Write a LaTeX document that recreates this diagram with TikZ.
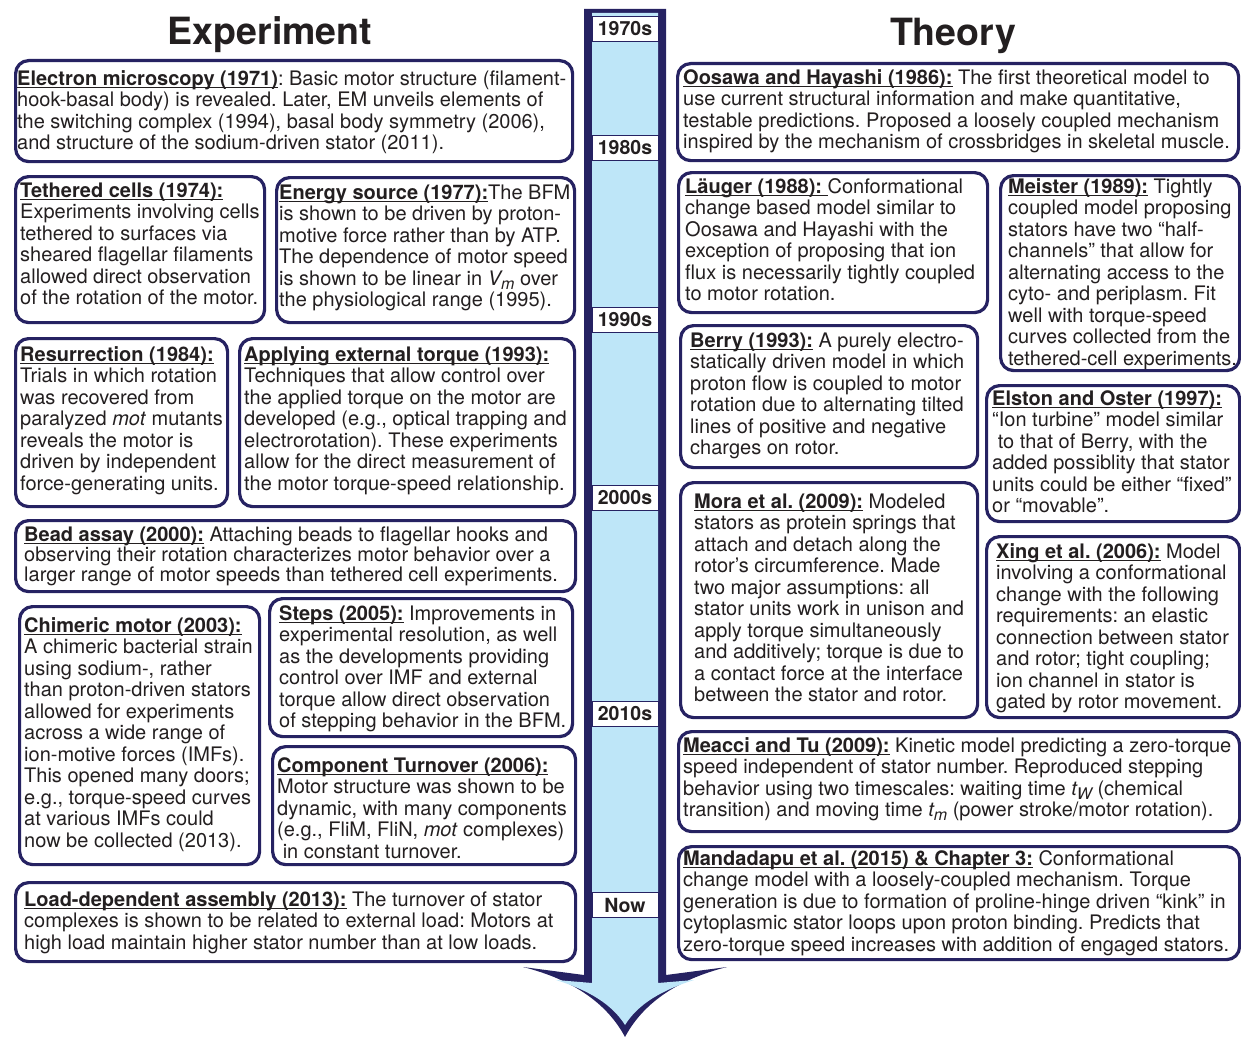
\documentclass[tikz,border=0pt]{standalone}
\usepackage{fontspec}
\setmainfont{TeX Gyre Heros}
\definecolor{navy}{RGB}{38,34,98}
\definecolor{skyfill}{RGB}{190,230,248}
\definecolor{ink}{RGB}{35,31,32}
\newcommand\hdr[1]{\setbox0=\hbox{\bfseries #1}\rlap{\rule[-3.2pt]{\wd0}{1.3pt}}\box0\relax}
\newcommand\sbit[2]{{\itshape #1\raisebox{-4pt}{\fontsize{16}{16}\selectfont #2}}}
\newcommand\mybox[5]{\node[box, anchor=north west, minimum width={#4-#2}, minimum height={#5-#3}] (#1) at (#2,#3) {};}
\tikzset{
  box/.style={draw=navy, line width=3.2pt, rounded corners=13pt, fill=white, inner sep=0pt},
  txt/.style={anchor=north west, inner sep=0pt, align=left, text=ink, font=\fontsize{20}{21.5}\selectfont\frenchspacing},
  txtb/.style={txt, font=\fontsize{20}{20}\selectfont\frenchspacing},
  yr/.style={draw=navy, line width=0.8pt, fill=white, minimum width=66pt, minimum height=25pt, inner sep=0pt, text=ink, font=\fontsize{19.5}{20}\selectfont\bfseries},
  ttl/.style={anchor=base, inner sep=0pt, text=ink, font=\fontsize{37.5}{40}\selectfont\bfseries}
}
\begin{document}
\begin{tikzpicture}[x=1pt,y=-1pt]
\useasboundingbox (0,0) rectangle (1241,1038);
% titles
\node[ttl] (expt) at (270,45) {Experiment};
\node[ttl] (theo) at (953,46) {Theory};
% timeline arrow
\fill[navy] (584,9) -- (584,975) -- (523,967) .. controls (575,980) and (608,1005) .. (625,1037)
  .. controls (642,1005) and (675,980) .. (727,967) -- (666,975) -- (666,9) -- cycle;
\fill[skyfill] (592,13) -- (592,983) -- (556,980) .. controls (588,990) and (612,1004) .. (625,1025)
  .. controls (638,1004) and (662,990) .. (694,980) -- (658,983) -- (658,13) -- cycle;
\node[yr] (y70) at (625,28.5) {1970s};
\node[yr] (y80) at (625,148) {1980s};
\node[yr] (y90) at (625,320) {1990s};
\node[yr] (y00) at (625,498) {2000s};
\node[yr] (y10) at (625,714) {2010s};
\node[yr] (ynow) at (625,905) {Now};
% ---------------- Experiment boxes
\mybox{L1}{14}{59}{571}{160}
\node[txt] (L1t) at (17,70) {\rule{0pt}{15pt}\hdr{Electron microscopy (1971)}: Basic motor structure (filament-\\
hook-basal body) is revealed. Later, EM unveils elements of\\
the switching complex (1994), basal body symmetry (2006),\\
and structure of the sodium-driven stator (2011).};

\mybox{L2}{14}{175}{263}{321}
\node[txt] (L2t) at (20,182) {\rule{0pt}{15pt}\hdr{Tethered cells (1974):}\\
Experiments involving cells\\
tethered to surfaces via\\
sheared flagellar filaments\\
allowed direct observation\\
of the rotation of the motor.};

\mybox{L3}{275}{176}{573}{321}
\node[txt] (L3t) at (279,184) {\rule{0pt}{15pt}\hdr{Energy source (1977):}The BFM\\
is shown to be driven by proton-\\
motive force rather than by ATP.\\
The dependence of motor speed\\
is shown to be linear in \sbit{V}{m} over\\
the physiological range (1995).};

\mybox{L4}{14}{337}{226}{505}
\node[txt] (L4t) at (20,346) {\rule{0pt}{15pt}\hdr{Resurrection (1984):}\\
Trials in which rotation\\
was recovered from\\
paralyzed \textit{mot} mutants\\
reveals the motor is\\
driven by independent\\
force-generating units.};

\mybox{L5}{238}{337}{573}{505}
\node[txt] (L5t) at (244,346) {\rule{0pt}{15pt}\hdr{Applying external torque (1993):}\\
Techniques that allow control over\\
the applied torque on the motor are\\
developed (e.g., optical trapping and\\
electrorotation). These experiments\\
allow for the direct measurement of\\
the motor torque-speed relationship.};

\mybox{L6}{14}{519}{574}{590}
\node[txtb] (L6t) at (24,526) {\rule{0pt}{15pt}\hdr{Bead assay (2000):} Attaching beads to flagellar hooks and\\
observing their rotation characterizes motor behavior over a\\
larger range of motor speeds than tethered cell experiments.};

\mybox{L7}{18}{605}{258}{863}
\node[txt] (L7t) at (24,617) {\rule{0pt}{15pt}\hdr{Chimeric motor (2003):}\\
A chimeric bacterial strain\\
using sodium-, rather\\
than proton-driven stators\\
allowed for experiments\\
across a wide range of\\
ion-motive forces (IMFs).\\
This opened many doors;\\
e.g., torque-speed curves\\
at various IMFs could\\
now be collected (2013).};

\mybox{L8}{268}{597}{571}{735}
\node[txt] (L8t) at (279,605) {\rule{0pt}{15pt}\hdr{Steps (2005):} Improvements in\\
experimental resolution, as well\\
as the developments providing\\
control over IMF and external\\
torque allow direct observation\\
of stepping behavior in the BFM.};

\mybox{L9}{271}{745}{574}{863}
\node[txt] (L9t) at (277,757) {\rule{0pt}{15pt}\hdr{Component Turnover (2006):}\\
Motor structure was shown to be\\
dynamic, with many components\\
(e.g., FliM, FliN, \textit{mot} complexes)\\
\ in constant turnover.};

\mybox{L10}{14}{881}{574}{960}
\node[txt] (L10t) at (24,891) {\rule{0pt}{15pt}\hdr{Load-dependent assembly (2013):} The turnover of stator\\
complexes is shown to be related to external load: Motors at\\
high load maintain higher stator number than at low loads.};

% ---------------- Theory boxes
\mybox{R1}{676}{62}{1237}{159}
\node[txt] (R1t) at (683,69) {\rule{0pt}{15pt}\hdr{Oosawa and Hayashi (1986):} The first theoretical model to\\
use current structural information and make quantitative,\\
testable predictions. Proposed a loosely coupled mechanism\\
inspired by the mechanism of crossbridges in skeletal muscle.};

\mybox{R2}{677}{171}{986}{311}
\node[txt] (R2t) at (685,178) {\rule{0pt}{15pt}\hdr{Läuger (1988):\ }Conformational\\
change based model similar to\\
Oosawa and Hayashi with the\\
exception of proposing that ion\\
flux is necessarily tightly coupled\\
to motor rotation.};

\mybox{R3}{999}{174}{1238}{369}
\node[txt] (R3t) at (1008,178) {\rule{0pt}{15pt}\hdr{Meister (1989):} Tightly\\
coupled model proposing\\
stators have two “half-\\
channels” that allow for\\
alternating access to the\\
cyto- and periplasm. Fit\\
well with torque-speed\\
curves collected from the\\
tethered-cell experiments.};

\mybox{R4}{679}{324}{976}{466}
\node[txt] (R4t) at (690,332) {\rule{0pt}{15pt}\hdr{Berry (1993):} A purely electro-\\
statically driven model in which\\
proton flow is coupled to motor\\
rotation due to alternating tilted\\
lines of positive and negative\\
charges on rotor.};

\mybox{R5}{985}{384}{1238}{520}
\node[txt] (R5t) at (992,390) {\rule{0pt}{15pt}\hdr{Elston and Oster (1997):}\\
“Ion turbine” model similar\\
\ to that of Berry, with the\\
added possiblity that stator\\
units could be either “fixed”\\
or “movable”.};

\mybox{R6}{679}{481}{976}{716}
\node[txt] (R6t) at (694,493) {\rule{0pt}{15pt}\hdr{Mora et al. (2009):} Modeled\\
stators as protein springs that\\
attach and detach along the\\
rotor’s circumference. Made\\
two major assumptions: all\\
stator units work in unison and\\
apply torque simultaneously\\
and additively; torque is due to\\
a contact force at the interface\\
between the stator and rotor.};

\mybox{R7}{985}{535}{1238}{716}
\node[txt] (R7t) at (996,543) {\rule{0pt}{15pt}\hdr{Xing et al. (2006):} Model\\
involving a conformational\\
change with the following\\
requirements: an elastic\\
connection between stator\\
and rotor; tight coupling;\\
ion channel in stator is\\
gated by rotor movement.};

\mybox{R8}{677}{730}{1238}{830}
\node[txt] (R8t) at (683,737) {\rule{0pt}{15pt}\hdr{Meacci and Tu (2009):} Kinetic model predicting a zero-torque\\
speed independent of stator number. Reproduced stepping\\
behavior using two timescales: waiting time \sbit{t}{W} (chemical\\
transition) and moving time \sbit{t}{m} (power stroke/motor rotation).};

\mybox{R9}{677}{845}{1238}{958}
\node[txt] (R9t) at (683,850) {\rule{0pt}{15pt}\hdr{Mandadapu et al. (2015) \& Chapter 3:} Conformational\\
change model with a loosely-coupled mechanism. Torque\\
generation is due to formation of proline-hinge driven “kink” in\\
cytoplasmic stator loops upon proton binding. Predicts that\\
zero-torque speed increases with addition of engaged stators.};
\end{tikzpicture}
\end{document}
